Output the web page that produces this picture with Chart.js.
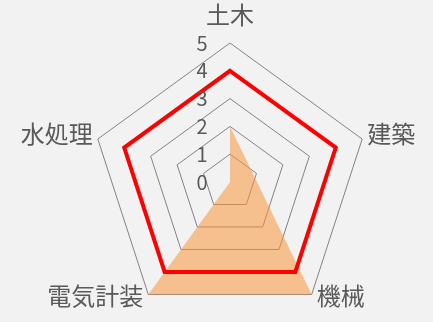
<!DOCTYPE html>
<html>
<head>
<meta charset="utf-8">
<script src="https://cdn.jsdelivr.net/npm/chart.js@4"></script>
<style>
  html, body { margin: 0; padding: 0; background: #f2f2f2; }
  #wrap { width: 433px; height: 322px; }
</style>
</head>
<body>
<div id="wrap"><canvas id="radarChart"></canvas></div>
<script>
const categories = ['土木', '建築', '機械', '電気計装', '水処理'];
const targetValues = [4, 4, 4, 4, 4];      // red outline
const actualValues = [2, null, 5, 5, 0];   // orange area (建築 left blank)
const tickValues = [0, 1, 2, 3, 4, 5];

const labelFont = "'Noto Sans CJK JP', 'Noto Sans', sans-serif";

// scale numbers sit left of the vertical axis, category names outside the pentagon
const labelPlugin = {
    id: 'radarLabels',
    afterDatasetsDraw(chart) {
        const scale = chart.scales.r;
        const ctx = chart.ctx;
        ctx.save();
        ctx.fillStyle = '#595959';
        ctx.textBaseline = 'middle';

        ctx.font = '20px ' + labelFont;
        ctx.textAlign = 'center';
        tickValues.forEach(function (v) {
            const d = scale.getDistanceFromCenterForValue(v);
            ctx.fillText(String(v), scale.xCenter - 28, scale.yCenter - d);
        });

        ctx.font = '24px ' + labelFont;
        categories.forEach(function (name, i) {
            const p = scale.getPointPosition(i, scale.drawingArea);
            const dx = p.x - scale.xCenter;
            if (Math.abs(dx) < 1) {
                ctx.textAlign = 'center';
                ctx.fillText(name, p.x, p.y - 28);
            } else if (dx > 0) {
                ctx.textAlign = 'left';
                ctx.fillText(name, p.x + 5, p.y < scale.yCenter ? p.y - 5 : p.y + 1);
            } else {
                ctx.textAlign = 'right';
                ctx.fillText(name, p.x - 5, p.y < scale.yCenter ? p.y - 5 : p.y + 1);
            }
        });
        ctx.restore();
    }
};

const ctx = document.getElementById('radarChart').getContext('2d');
new Chart(ctx, {
    type: 'radar',
    data: {
        labels: categories,
        datasets: [{
            label: '目標',
            data: targetValues,
            borderColor: '#ff0000',
            borderWidth: 4,
            fill: false,
            pointRadius: 0,
            borderJoinStyle: 'miter'
        }, {
            label: '現状',
            data: actualValues,
            borderWidth: 0,
            backgroundColor: 'rgba(250, 150, 60, 0.55)',
            fill: true,
            spanGaps: true,
            pointRadius: 0
        }]
    },
    options: {
        responsive: true,
        maintainAspectRatio: false,
        animation: false,
        layout: { padding: { top: 43, left: 87, right: 60, bottom: -7 } },
        plugins: {
            legend: { display: false },
            tooltip: { enabled: false }
        },
        scales: {
            r: {
                min: 0,
                max: 5,
                angleLines: { display: false },
                grid: { color: '#857f8c', lineWidth: 1 },
                ticks: { display: false, stepSize: 1 },
                pointLabels: { display: false }
            }
        }
    },
    plugins: [labelPlugin]
});
</script>
</body>
</html>
